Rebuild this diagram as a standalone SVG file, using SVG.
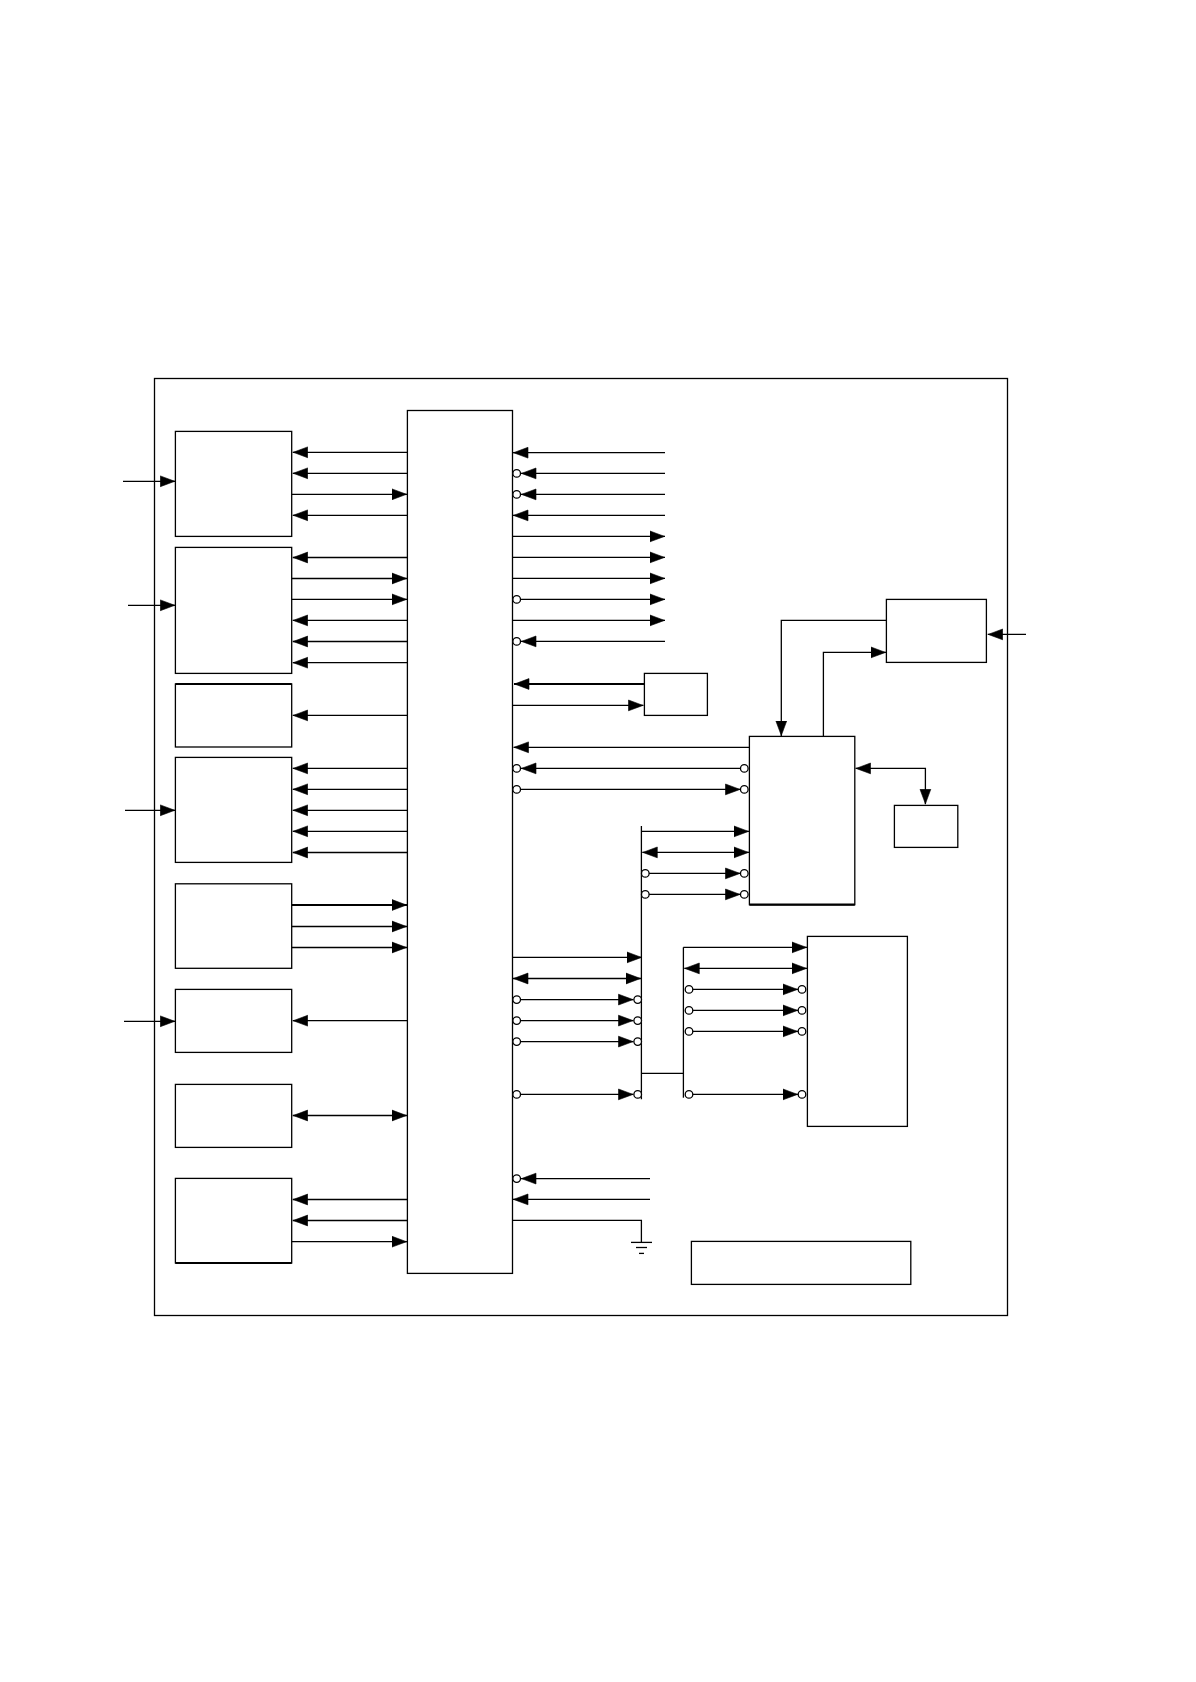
<svg xmlns="http://www.w3.org/2000/svg" width="1196" height="1682" viewBox="0 0 1196 1682">
<style>
rect{fill:#fff;stroke:#000;stroke-width:1.3}
line,polyline{fill:none;stroke:#000;stroke-width:1.3}
.a{marker-end:url(#ah)}
.b{marker-start:url(#ah);marker-end:url(#ah)}
.t{stroke-width:2.2}
circle{fill:#fff;stroke:#000;stroke-width:1.3;r:3.8px}
</style>
<defs>
<marker id="ah" markerUnits="userSpaceOnUse" markerWidth="17" markerHeight="14" refX="15.5" refY="7" orient="auto-start-reverse" viewBox="0 0 17 14"><path d="M0.5,1.6L15,7L0.5,12.4z" fill="#000" stroke="#000" stroke-width="0.6"/></marker>
</defs>
<rect width="1196" height="1682" style="fill:#fff;stroke:none"/>
<rect id="frame" x="154.5" y="378.5" width="853" height="937"/>
<g id="connectors">
<line class="a" x1="123" y1="481.3" x2="175.3" y2="481.3"/>
<line class="a" x1="128" y1="605.3" x2="175.3" y2="605.3"/>
<line class="a" x1="125" y1="810.3" x2="175.3" y2="810.3"/>
<line class="a" x1="124" y1="1021.3" x2="175.3" y2="1021.3"/>
<line class="a" x1="407" y1="452.3" x2="292.7" y2="452.3"/>
<line class="a" x1="407" y1="473.3" x2="292.7" y2="473.3"/>
<line class="a" x1="291.7" y1="494.3" x2="407" y2="494.3"/>
<line class="a" x1="407" y1="515.3" x2="292.7" y2="515.3"/>
<line class="a" x1="407" y1="557.5" x2="292.7" y2="557.5"/>
<line class="a" x1="291.7" y1="578.5" x2="407" y2="578.5"/>
<line class="a" x1="291.7" y1="599.4" x2="407" y2="599.4"/>
<line class="a" x1="407" y1="620.4" x2="292.7" y2="620.4"/>
<line class="a" x1="407" y1="641.5" x2="292.7" y2="641.5"/>
<line class="a" x1="407" y1="662.7" x2="292.7" y2="662.7"/>
<line class="a" x1="407" y1="715.4" x2="292.7" y2="715.4"/>
<line class="a" x1="407" y1="768.4" x2="292.7" y2="768.4"/>
<line class="a" x1="407" y1="789.3" x2="292.7" y2="789.3"/>
<line class="a" x1="407" y1="810.3" x2="292.7" y2="810.3"/>
<line class="a" x1="407" y1="831.3" x2="292.7" y2="831.3"/>
<line class="a" x1="407" y1="852.5" x2="292.7" y2="852.5"/>
<line class="a t" x1="291.7" y1="905" x2="407" y2="905"/>
<line class="a" x1="291.7" y1="926.5" x2="407" y2="926.5"/>
<line class="a" x1="291.7" y1="947.5" x2="407" y2="947.5"/>
<line class="a" x1="407" y1="1020.7" x2="292.7" y2="1020.7"/>
<line class="b" x1="292.7" y1="1115.5" x2="407" y2="1115.5"/>
<line class="a" x1="407" y1="1199.5" x2="292.7" y2="1199.5"/>
<line class="a" x1="407" y1="1220.5" x2="292.7" y2="1220.5"/>
<line class="a" x1="291.7" y1="1241.7" x2="407" y2="1241.7"/>

<line class="a" x1="665" y1="452.7" x2="513" y2="452.7"/>
<line class="a" x1="665" y1="473.4" x2="521" y2="473.4"/>
<line class="a" x1="665" y1="494.4" x2="521" y2="494.4"/>
<line class="a" x1="665" y1="515.4" x2="513" y2="515.4"/>
<line class="a" x1="512.5" y1="536.4" x2="665" y2="536.4"/>
<line class="a" x1="512.5" y1="557.4" x2="665" y2="557.4"/>
<line class="a" x1="512.5" y1="578.4" x2="665" y2="578.4"/>
<line class="a" x1="520" y1="599.4" x2="665" y2="599.4"/>
<line class="a" x1="512.5" y1="620.4" x2="665" y2="620.4"/>
<line class="a" x1="665" y1="641.4" x2="521" y2="641.4"/>
<line class="a t" x1="644.3" y1="684" x2="514" y2="684"/>
<line class="a" x1="512.5" y1="705.4" x2="643.5" y2="705.4"/>
<line class="a" x1="749.3" y1="747.3" x2="513.5" y2="747.3"/>
<line class="a" x1="741" y1="768.4" x2="521" y2="768.4"/>
<line class="a" x1="520" y1="789.4" x2="740.5" y2="789.4"/>

<polyline class="a" points="886.3,620.4 781.3,620.4 781.3,736"/>
<polyline class="a" points="823.4,736.4 823.4,652.4 886,652.4"/>
<line class="a" x1="1026" y1="634.4" x2="987.7" y2="634.4"/>
<polyline class="b" points="855.5,768.4 925.4,768.4 925.4,804.3"/>

<line x1="641.4" y1="826" x2="641.4" y2="1099.3"/>
<line class="a" x1="641.3" y1="831.4" x2="749" y2="831.4"/>
<line class="b" x1="642.3" y1="852.4" x2="749" y2="852.4"/>
<line class="a" x1="649" y1="873.4" x2="740.5" y2="873.4"/>
<line class="a" x1="649" y1="894.4" x2="740.5" y2="894.4"/>

<line class="a" x1="512.5" y1="957.4" x2="642" y2="957.4"/>
<line class="b" x1="513" y1="978.5" x2="641" y2="978.5"/>
<line class="a" x1="520" y1="999.6" x2="633.5" y2="999.6"/>
<line class="a" x1="520" y1="1020.6" x2="633.5" y2="1020.6"/>
<line class="a" x1="520" y1="1041.6" x2="633.5" y2="1041.6"/>
<line class="a" x1="520" y1="1094.4" x2="633.5" y2="1094.4"/>

<line x1="641.4" y1="1073.4" x2="683.4" y2="1073.4"/>
<line x1="683.4" y1="947.3" x2="683.4" y2="1097.7"/>
<line class="a" x1="683.3" y1="947.4" x2="807" y2="947.4"/>
<line class="b" x1="684.3" y1="968.4" x2="807" y2="968.4"/>
<line class="a" x1="692.5" y1="989.4" x2="798" y2="989.4"/>
<line class="a" x1="692.5" y1="1010.4" x2="798" y2="1010.4"/>
<line class="a" x1="692.5" y1="1031.4" x2="798" y2="1031.4"/>
<line class="a" x1="692.5" y1="1094.4" x2="798" y2="1094.4"/>

<line class="a" x1="650" y1="1178.6" x2="521" y2="1178.6"/>
<line class="a" x1="650" y1="1199.4" x2="513" y2="1199.4"/>
<polyline points="512.5,1220.4 641.4,1220.4 641.4,1242.4"/>
<line x1="631" y1="1242.4" x2="652" y2="1242.4"/>
<line x1="636" y1="1247.5" x2="647" y2="1247.5"/>
<line x1="639" y1="1253.4" x2="644" y2="1253.4"/>
</g>
<g id="block1"><rect x="175.4" y="431.4" width="116.3" height="105"/></g>
<g id="block2"><rect x="175.4" y="547.4" width="116.3" height="126"/></g>
<g id="block3"><rect x="175.4" y="684" width="116.3" height="63"/><line class="t" x1="175.4" y1="684" x2="291.7" y2="684"/></g>
<g id="block4"><rect x="175.4" y="757.4" width="116.3" height="105"/></g>
<g id="block5"><rect x="175.4" y="883.8" width="116.3" height="84.5"/></g>
<g id="block6"><rect x="175.4" y="989.4" width="116.3" height="63"/></g>
<g id="block7"><rect x="175.4" y="1084.4" width="116.3" height="63"/></g>
<g id="block8"><rect x="175.4" y="1178.4" width="116.3" height="84.6"/><line class="t" x1="175.4" y1="1263" x2="291.7" y2="1263"/></g>
<g id="center"><rect x="407.4" y="410.5" width="105.1" height="862.9" style="fill:none"/></g>
<g id="box-small"><rect x="644.4" y="673.4" width="63" height="42"/></g>
<g id="box-a"><rect x="886.4" y="599.4" width="100" height="63"/></g>
<g id="box-b"><rect x="749.4" y="736.4" width="105.4" height="168.3" style="fill:none"/><line class="t" x1="749.4" y1="904.7" x2="854.8" y2="904.7"/></g>
<g id="box-c"><rect x="894.4" y="805.4" width="63.4" height="42"/></g>
<g id="box-d"><rect x="807.4" y="936.4" width="100" height="190" style="fill:none"/></g>
<g id="box-note"><rect x="691.4" y="1241.4" width="219.4" height="43"/></g>
<g id="pins">
<circle cx="516.7" cy="473.4"/><circle cx="516.7" cy="494.4"/><circle cx="516.7" cy="599.4"/><circle cx="516.7" cy="641.4"/>
<circle cx="516.7" cy="768.4"/><circle cx="516.7" cy="789.4"/><circle cx="744.3" cy="768.4"/><circle cx="744.3" cy="789.4"/>
<circle cx="645.3" cy="873.4"/><circle cx="645.3" cy="894.4"/><circle cx="744.3" cy="873.4"/><circle cx="744.3" cy="894.4"/>
<circle cx="516.7" cy="999.6"/><circle cx="516.7" cy="1020.6"/><circle cx="516.7" cy="1041.6"/><circle cx="516.7" cy="1094.4"/>
<circle cx="637.7" cy="999.6"/><circle cx="637.7" cy="1020.6"/><circle cx="637.7" cy="1041.6"/><circle cx="637.7" cy="1094.4"/>
<circle cx="689" cy="989.4"/><circle cx="689" cy="1010.4"/><circle cx="689" cy="1031.4"/><circle cx="689" cy="1094.4"/>
<circle cx="802" cy="989.4"/><circle cx="802" cy="1010.4"/><circle cx="802" cy="1031.4"/><circle cx="802" cy="1094.4"/>
<circle cx="516.7" cy="1178.6"/>
</g>
</svg>
